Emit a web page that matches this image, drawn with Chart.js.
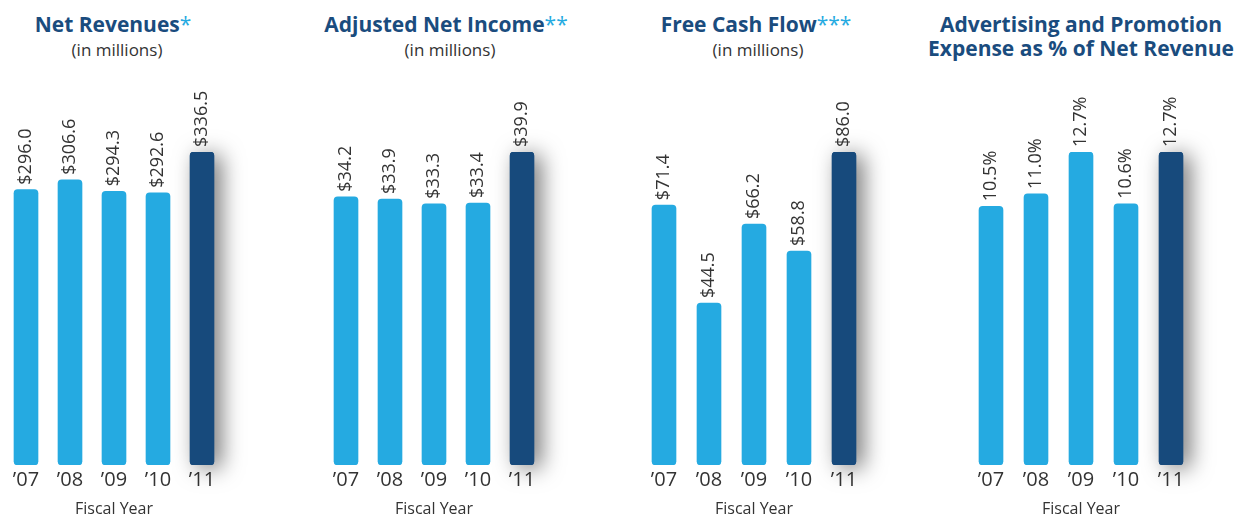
<!DOCTYPE html>
<html>
<head>
<meta charset="utf-8">
<script src="https://cdn.jsdelivr.net/npm/chart.js@4.4.0/dist/chart.umd.min.js"></script>
<style>
  body { margin: 0; width: 1237px; height: 519px; background: #fff; overflow: hidden; position: relative; font-family: "Open Sans", sans-serif; }
  canvas { position: absolute; left: 0; top: 0; }
  .ttl { position: absolute; transform: translateX(-50%); white-space: nowrap; text-align: center;
         font-weight: 700; font-size: 21px; line-height: 23.5px; color: #1a4c7e; top: 13px; }
  .ttl span { color: #25aae1; font-weight: 400; }
  .sub { position: absolute; transform: translateX(-50%); white-space: nowrap;
         font-size: 17px; line-height: 20px; color: #333; top: 40px; }
</style>
</head>
<body>
<div class="ttl" style="left:113px">Net Revenues<span>*</span></div>
<div class="sub" style="left:117px">(in millions)</div>
<div class="ttl" style="left:446px">Adjusted Net Income<span>**</span></div>
<div class="sub" style="left:450px">(in millions)</div>
<div class="ttl" style="left:756px">Free Cash Flow<span>***</span></div>
<div class="sub" style="left:758px">(in millions)</div>
<div class="ttl" style="left:1081px">Advertising and Promotion<br>Expense as % of Net Revenue</div>

<canvas id="c1" width="1237" height="519"></canvas>
<canvas id="c2" width="1237" height="519"></canvas>
<canvas id="c3" width="1237" height="519"></canvas>
<canvas id="c4" width="1237" height="519"></canvas>

<script>
const years = ["\u201907", "\u201908", "\u201909", "\u201910", "\u201911"];
const netRevenues = [296.0, 306.6, 294.3, 292.6, 336.5];
const adjNetIncome = [34.2, 33.9, 33.3, 33.4, 39.9];
const freeCashFlow = [71.4, 44.5, 66.2, 58.8, 86.0];
const adPromoPct = [10.5, 11.0, 12.7, 10.6, 12.7];

const LIGHT = "#25aae1";
const DARK = "#174a7c";

// shadow behind the highlighted (last) bar
const shadowPlugin = {
  id: "barShadow",
  beforeDatasetsDraw(chart) {
    const bar = chart.getDatasetMeta(0).data[4];
    const { x, y, base, width } = bar.getProps(["x", "y", "base", "width"], true);
    const ctx = chart.ctx;
    ctx.save();
    ctx.shadowColor = "rgba(0,0,0,0.55)";
    ctx.shadowBlur = 22;
    ctx.shadowOffsetX = 7;
    ctx.shadowOffsetY = 3;
    ctx.fillStyle = DARK;
    ctx.beginPath();
    ctx.roundRect(x - width / 2, y, width, base - y, 4);
    ctx.fill();
    ctx.restore();
  }
};

// rotated value labels above bars
const valueLabels = {
  id: "valueLabels",
  afterDatasetsDraw(chart, args, opts) {
    const ctx = chart.ctx;
    const values = chart.data.datasets[0].data;
    ctx.save();
    ctx.font = "18px 'Open Sans'";
    ctx.fillStyle = "#333";
    ctx.textAlign = "left";
    ctx.textBaseline = "middle";
    chart.getDatasetMeta(0).data.forEach((bar, i) => {
      ctx.save();
      ctx.translate(bar.x, bar.y - 5);
      ctx.rotate(-Math.PI / 2);
      ctx.fillText(opts.fmt(values[i]), 0, 0);
      ctx.restore();
    });
    ctx.restore();
  }
};

function makeChart(id, values, left, right, fmt) {
  const ctx = document.getElementById(id).getContext("2d");
  return new Chart(ctx, {
    type: "bar",
    data: {
      labels: years,
      datasets: [{
        data: values,
        backgroundColor: values.map((v, i) => i === values.length - 1 ? DARK : LIGHT),
        barThickness: 24,
        borderRadius: 4,
        borderSkipped: false
      }]
    },
    options: {
      responsive: false,
      animation: false,
      layout: { padding: { left: left, right: 1237 - right, top: 152, bottom: 0 } },
      plugins: {
        legend: { display: false },
        tooltip: { enabled: false },
        valueLabels: { fmt: fmt }
      },
      scales: {
        x: {
          grid: { display: false, drawTicks: false },
          border: { display: false },
          ticks: { color: "#333", font: { family: "Open Sans", size: 20 }, padding: 3 },
          title: { display: true, text: "Fiscal Year", color: "#333",
                   font: { family: "Open Sans", size: 16 }, padding: { top: 0, bottom: 0 } },
          afterFit: s => { s.height = 54; }
        },
        y: { display: false, min: 0, max: Math.max(...values) }
      }
    },
    plugins: [shadowPlugin, valueLabels]
  });
}

const dollars = v => "$" + v.toFixed(1);
makeChart("c1", netRevenues, 4, 224, dollars);
makeChart("c2", adjNetIncome, 324, 544, dollars);
makeChart("c3", freeCashFlow, 641.5, 866.5, dollars);
makeChart("c4", adPromoPct, 968.5, 1193.5, v => v.toFixed(1) + "%");
</script>
</body>
</html>
